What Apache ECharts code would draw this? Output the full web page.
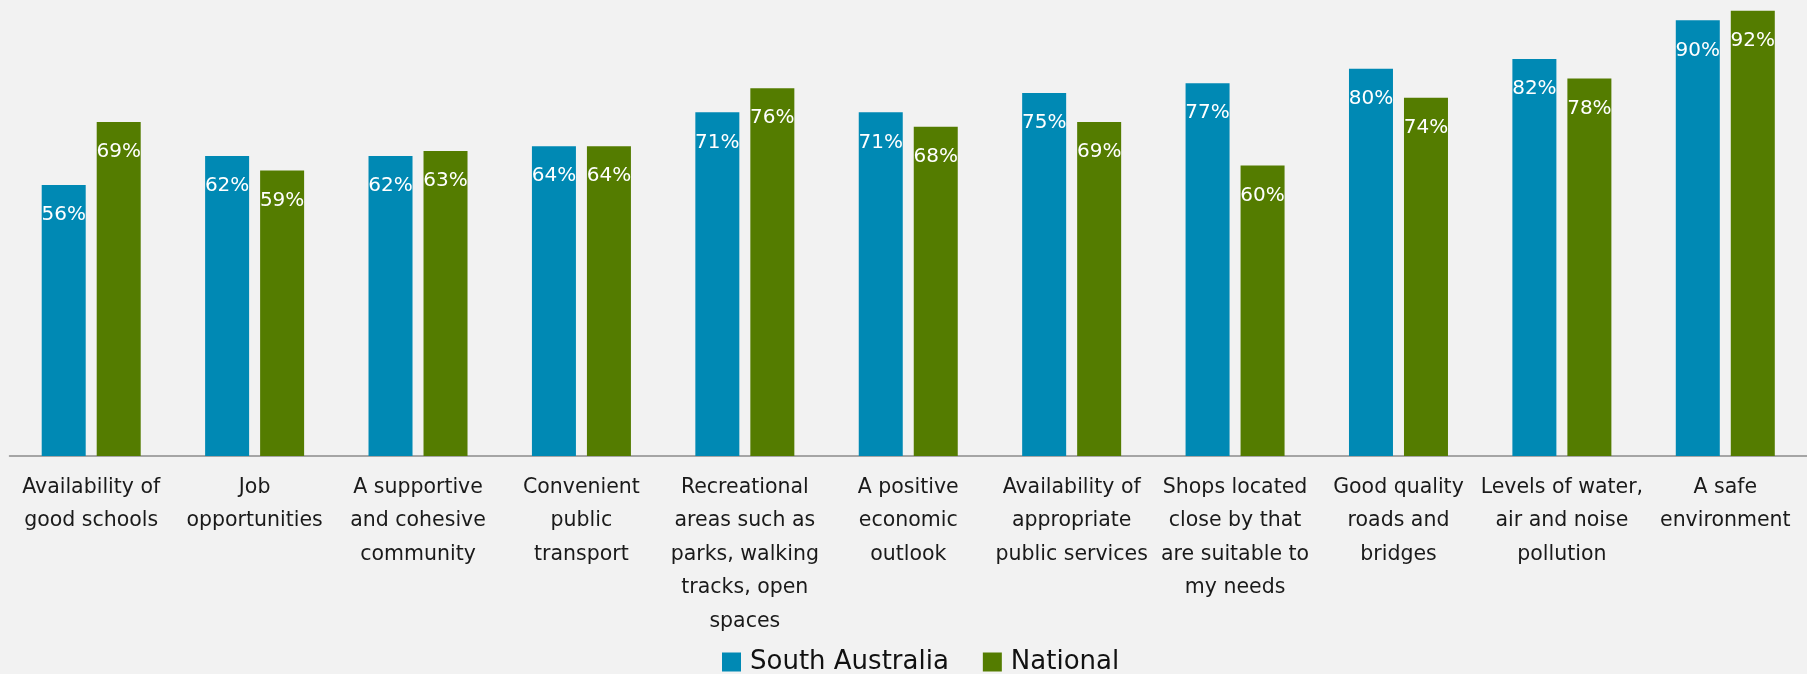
<!DOCTYPE html>
<html>
<head>
<meta charset="utf-8">
<script src="https://cdn.jsdelivr.net/npm/echarts@6/dist/echarts.min.js"></script>
<style>
  html, body { margin: 0; padding: 0; background: #f2f2f2; }
  #chart { width: 1807px; height: 674px; }
</style>
</head>
<body>
<div id="chart"></div>
<script>
// Neighbourhood attributes rated as important, South Australia vs national
const categories = [
  'Availability of\ngood schools',
  'Job\nopportunities',
  'A supportive\nand cohesive\ncommunity',
  'Convenient\npublic\ntransport',
  'Recreational\nareas such as\nparks, walking\ntracks, open\nspaces',
  'A positive\neconomic\noutlook',
  'Availability of\nappropriate\npublic services',
  'Shops located\nclose by that\nare suitable to\nmy needs',
  'Good quality\nroads and\nbridges',
  'Levels of water,\nair and noise\npollution',
  'A safe\nenvironment'
];
const southAustralia = [56, 62, 62, 64, 71, 71, 75, 77, 80, 82, 90];
const national = [69, 59, 63, 64, 76, 68, 69, 60, 74, 78, 92];

const FONT = 'DejaVu Sans';
const BLUE = '#0089b4';
const GREEN = '#547c00';

const valueLabel = {
  show: true,
  position: 'insideTop',
  distance: 20,
  color: '#ffffff',
  fontFamily: FONT,
  fontSize: 20,
  formatter: '{c}%'
};

const chart = echarts.init(document.getElementById('chart'), null, { renderer: 'canvas' });
chart.setOption({
  backgroundColor: '#f2f2f2',
  animation: false,
  grid: { left: 9.5, top: 1, width: 1806, height: 455, containLabel: false },
  legend: {
    left: 722,
    top: 649,
    padding: 0,
    itemWidth: 19,
    itemHeight: 19,
    itemGap: 34,
    icon: 'rect',
    textStyle: { fontFamily: FONT, fontSize: 26, color: '#111111', padding: [0, 0, 0, 4] },
    data: ['South Australia', 'National']
  },
  xAxis: {
    type: 'category',
    data: categories,
    axisLine: { show: true, lineStyle: { color: '#8c8c8c', width: 1.5 } },
    axisTick: { show: false },
    axisLabel: {
      interval: 0,
      margin: 15,
      fontFamily: FONT,
      fontSize: 20.5,
      lineHeight: 33.4,
      color: '#1a1a1a',
      align: 'center'
    }
  },
  yAxis: {
    type: 'value',
    min: 0,
    max: 94,
    show: false,
    splitLine: { show: false }
  },
  series: [
    {
      name: 'South Australia',
      type: 'bar',
      data: southAustralia,
      barWidth: 44,
      barGap: '25%',
      itemStyle: { color: BLUE },
      label: valueLabel
    },
    {
      name: 'National',
      type: 'bar',
      data: national,
      barWidth: 44,
      itemStyle: { color: GREEN },
      label: valueLabel
    }
  ]
});
</script>
</body>
</html>
